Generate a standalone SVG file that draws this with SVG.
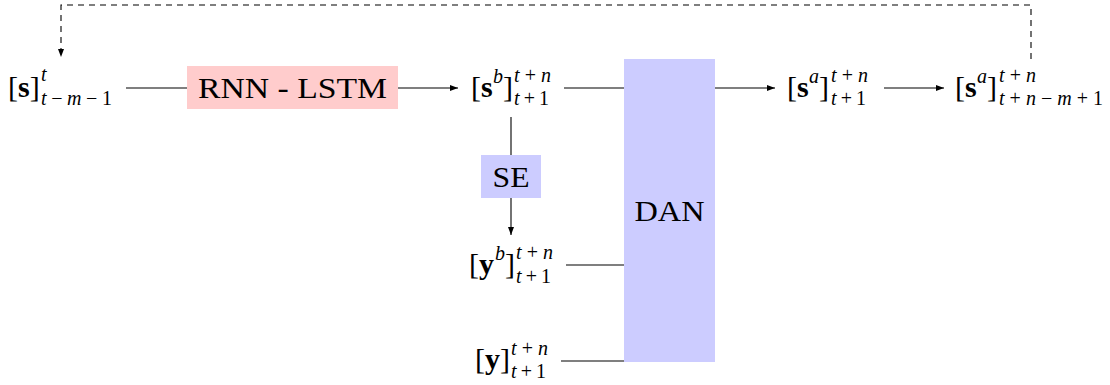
<svg xmlns="http://www.w3.org/2000/svg" width="1110" height="385" viewBox="0 0 1110 385">
<style>
.ln{stroke:#000;stroke-width:1.1;fill:none}
.dash{stroke-dasharray:6 5}
.m{font-family:"Liberation Serif","Times New Roman",serif;font-size:30px;fill:#000}
.b{font-weight:bold}
.s{font-family:"Liberation Serif","Times New Roman",serif;font-size:20px;font-style:italic;fill:#000}
.up{font-style:normal}
.lbl{font-family:"Liberation Serif","Times New Roman",serif;font-size:30px;fill:#000;text-anchor:middle}
</style>
<defs>
<marker id="ar" markerUnits="userSpaceOnUse" markerWidth="9" markerHeight="7" refX="8" refY="3" orient="auto">
<path d="M0,0 L8,3 L0,6 z" fill="#000"/>
</marker>
</defs>
<rect width="1110" height="385" fill="#fff"/>

<g id="connectors">
<path class="ln dash" d="M1031,59 V5 H61 V57" marker-end="url(#ar)"/>
<line class="ln" x1="126" y1="88" x2="187" y2="88"/>
<line class="ln" x1="398" y1="88" x2="458" y2="88" marker-end="url(#ar)"/>
<line class="ln" x1="564" y1="88" x2="624" y2="88"/>
<line class="ln" x1="715" y1="88" x2="775" y2="88" marker-end="url(#ar)"/>
<line class="ln" x1="884" y1="88" x2="944" y2="88" marker-end="url(#ar)"/>
<line class="ln" x1="511" y1="117" x2="511" y2="155"/>
<line class="ln" x1="511" y1="198" x2="511" y2="235" marker-end="url(#ar)"/>
<line class="ln" x1="566" y1="265" x2="624" y2="265"/>
<line class="ln" x1="561" y1="361" x2="624" y2="361"/>
</g>

<g id="s-past">
<text class="m" x="8" y="97">[<tspan class="b">s</tspan>]</text>
<text class="s" x="41" y="81">t</text>
<text class="s" x="41" y="105" textLength="71">t<tspan class="up">−</tspan>m<tspan class="up">−1</tspan></text>
</g>

<g id="rnn">
<rect x="187" y="66" width="211" height="43" fill="#ffcccc"/>
<text class="lbl" x="292.5" y="98" textLength="189" lengthAdjust="spacingAndGlyphs">RNN - LSTM</text>
</g>

<g id="sb">
<text class="m" x="471" y="97">[<tspan class="b">s</tspan></text>
<text class="s" x="493" y="83">b</text>
<text class="m" x="503" y="97">]</text>
<text class="s" x="514" y="82" textLength="37">t<tspan class="up">+</tspan>n</text>
<text class="s" x="514" y="105" textLength="35">t<tspan class="up">+1</tspan></text>
</g>

<g id="se">
<rect x="481" y="155" width="60" height="43" fill="#ccccff"/>
<text class="lbl" x="511" y="187" textLength="37" lengthAdjust="spacingAndGlyphs">SE</text>
</g>

<g id="yb">
<text class="m" x="469" y="274">[<tspan class="b">y</tspan></text>
<text class="s" x="495" y="260">b</text>
<text class="m" x="505" y="274">]</text>
<text class="s" x="516" y="259" textLength="37">t<tspan class="up">+</tspan>n</text>
<text class="s" x="516" y="283" textLength="35">t<tspan class="up">+1</tspan></text>
</g>

<g id="y">
<text class="m" x="475" y="369">[<tspan class="b">y</tspan>]</text>
<text class="s" x="511" y="355" textLength="37">t<tspan class="up">+</tspan>n</text>
<text class="s" x="511" y="378" textLength="35">t<tspan class="up">+1</tspan></text>
</g>

<g id="dan">
<rect x="624" y="59" width="91" height="303" fill="#ccccff"/>
<text class="lbl" x="669.5" y="221" textLength="70" lengthAdjust="spacingAndGlyphs">DAN</text>
</g>

<g id="sa">
<text class="m" x="787" y="97">[<tspan class="b">s</tspan></text>
<text class="s" x="809" y="83">a</text>
<text class="m" x="819" y="97">]</text>
<text class="s" x="831" y="82" textLength="37">t<tspan class="up">+</tspan>n</text>
<text class="s" x="831" y="105" textLength="35">t<tspan class="up">+1</tspan></text>
</g>

<g id="sa-out">
<text class="m" x="955" y="97">[<tspan class="b">s</tspan></text>
<text class="s" x="977" y="83">a</text>
<text class="m" x="987" y="97">]</text>
<text class="s" x="999" y="82" textLength="37">t<tspan class="up">+</tspan>n</text>
<text class="s" x="999" y="105" textLength="104">t<tspan class="up">+</tspan>n<tspan class="up">−</tspan>m<tspan class="up">+1</tspan></text>
</g>
</svg>
